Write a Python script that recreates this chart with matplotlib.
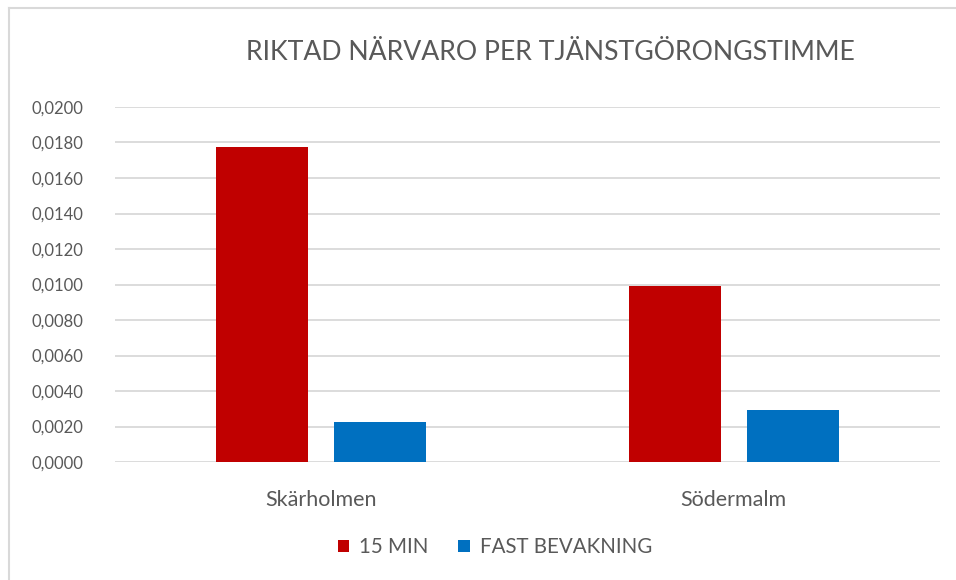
import numpy as np
import matplotlib.pyplot as plt
from matplotlib.lines import Line2D
from matplotlib.ticker import FuncFormatter

categories = ['Skärholmen', 'Södermalm']
series_names = ['15 MIN', 'FAST BEVAKNING']
min15 = [0.01776, 0.00991]
fast = [0.00226, 0.00292]
colors = ['#C00000', '#0070C0']

plt.rcParams['font.family'] = ['Lato', 'DejaVu Sans']
grey = '#595959'

W, H = 956, 580
fig = plt.figure(figsize=(W / 100, H / 100), dpi=100)
ax = fig.add_axes([115 / W, 1 - 462 / H, 825 / W, 355 / H])

x = np.arange(len(categories))
bw = 0.224
off = 0.143
ax.bar(x - off, min15, bw, color=colors[0], label=series_names[0], zorder=3)
ax.bar(x + off, fast, bw, color=colors[1], label=series_names[1], zorder=3)

ax.set_xlim(-0.5, 1.5)
ax.set_ylim(0, 0.02)
ax.set_yticks(np.arange(0, 0.0201, 0.002))
ax.yaxis.set_major_formatter(FuncFormatter(lambda v, p: f'{v:.4f}'.replace('.', ',')))
ax.set_xticks(x)
ax.set_xticklabels(categories)
ax.tick_params(axis='both', length=0, colors=grey)
ax.tick_params(axis='y', pad=23, labelsize=12)
ax.tick_params(axis='x', pad=20, labelsize=15.5)
ax.grid(axis='y', color='#D9D9D9', linewidth=1.3, zorder=0)
for s in ax.spines.values():
    s.set_visible(False)

fig.text(550 / W, 1 - 52 / H, 'RIKTAD NÄRVARO PER TJÄNSTGÖRONGSTIMME',
         ha='center', va='center', fontsize=19.2, color=grey)

leg = fig.legend(loc='center', bbox_to_anchor=(495 / W, 1 - 547 / H), ncol=2,
                 frameon=False, fontsize=14.8, handlelength=0.55, handleheight=0.55,
                 handletextpad=0.5, columnspacing=1.45)
for t in leg.get_texts():
    t.set_color(grey)

# chart border
fig.add_artist(Line2D([9 / W, 9 / W], [0, 1 - 8 / H], color='#D9D9D9', lw=1.5,
                      transform=fig.transFigure))
fig.add_artist(Line2D([9 / W, 1], [1 - 8 / H, 1 - 8 / H], color='#D9D9D9', lw=1.5,
                      transform=fig.transFigure))

fig.savefig('out.png', dpi=100)
